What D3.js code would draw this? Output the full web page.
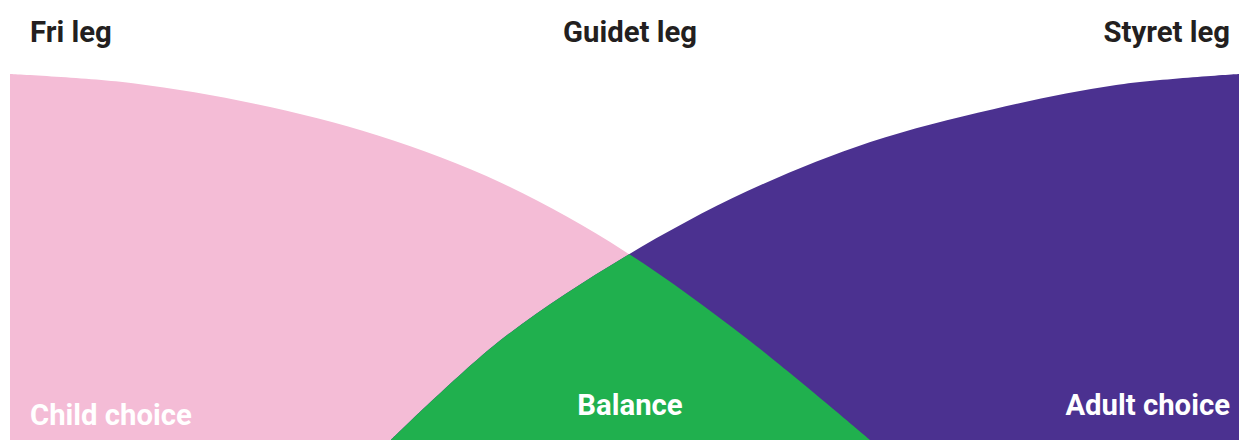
<!DOCTYPE html>
<html>
<head>
<meta charset="utf-8">
<script src="https://cdn.jsdelivr.net/npm/d3@7"></script>
<style>
  body { margin: 0; background: #fff; }
  text { font-family: Roboto, "Noto Sans", sans-serif; font-weight: 700; }
</style>
</head>
<body>
<div id="graphic"></div>
<script>
// curve values (x: 0-100 across, y: 0-100 height)
var childX = [0, 10, 20, 30, 40, 50, 60, 70];
var childY = [100, 97.5, 91.8, 83.1, 70.2, 51.6, 27.6, 0];
var adultX = [31, 40, 50, 60, 70, 80, 90, 100];
var adultY = [0, 27.5, 50.0, 68.0, 81.4, 90.4, 97.0, 100];
var topLabels = ["Fri leg", "Guidet leg", "Styret leg"];
var areaLabels = ["Child choice", "Balance", "Adult choice"];

var width = 1239, height = 440;
var margin = {top: 74, right: 0, bottom: 0, left: 10};

var x = d3.scaleLinear().domain([0, 100]).range([margin.left, width - margin.right]);
var y = d3.scaleLinear().domain([0, 100]).range([height - margin.bottom, margin.top]);

var child = childX.map(function (d, i) { return {x: d, y: childY[i]}; });
var adult = adultX.map(function (d, i) { return {x: d, y: adultY[i]}; });

var area = d3.area()
    .x(function (d) { return x(d.x); })
    .y0(y(0))
    .y1(function (d) { return y(d.y); })
    .curve(d3.curveCatmullRom.alpha(0.5));

var svg = d3.select("#graphic").append("svg")
    .attr("width", width)
    .attr("height", height);

svg.append("clipPath").attr("id", "childClip")
  .append("path").attr("d", area(child));

svg.append("path").attr("d", area(child)).style("fill", "#f4bcd6");
svg.append("path").attr("d", area(adult)).style("fill", "#4b3190");
// overlap of the two areas
svg.append("path").attr("d", area(adult))
    .attr("clip-path", "url(#childClip)")
    .style("fill", "#20b04e");

// header labels
var topPos = [{x: 30, anchor: "start"}, {x: 630, anchor: "middle"}, {x: 1230, anchor: "end"}];
svg.selectAll("text.top")
    .data(topLabels)
  .enter().append("text")
    .attr("class", "top")
    .attr("x", function (d, i) { return topPos[i].x; })
    .attr("y", 42)
    .attr("text-anchor", function (d, i) { return topPos[i].anchor; })
    .style("font-size", "29.3px")
    .style("fill", "#231f20")
    .text(function (d) { return d; });

// labels inside the areas
var botPos = [{x: 30, y: 425, anchor: "start"}, {x: 630, y: 415, anchor: "middle"}, {x: 1230, y: 415, anchor: "end"}];
svg.selectAll("text.area")
    .data(areaLabels)
  .enter().append("text")
    .attr("class", "area")
    .attr("x", function (d, i) { return botPos[i].x; })
    .attr("y", function (d, i) { return botPos[i].y; })
    .attr("text-anchor", function (d, i) { return botPos[i].anchor; })
    .style("font-size", "29.3px")
    .style("fill", "#ffffff")
    .text(function (d) { return d; });
</script>
</body>
</html>
